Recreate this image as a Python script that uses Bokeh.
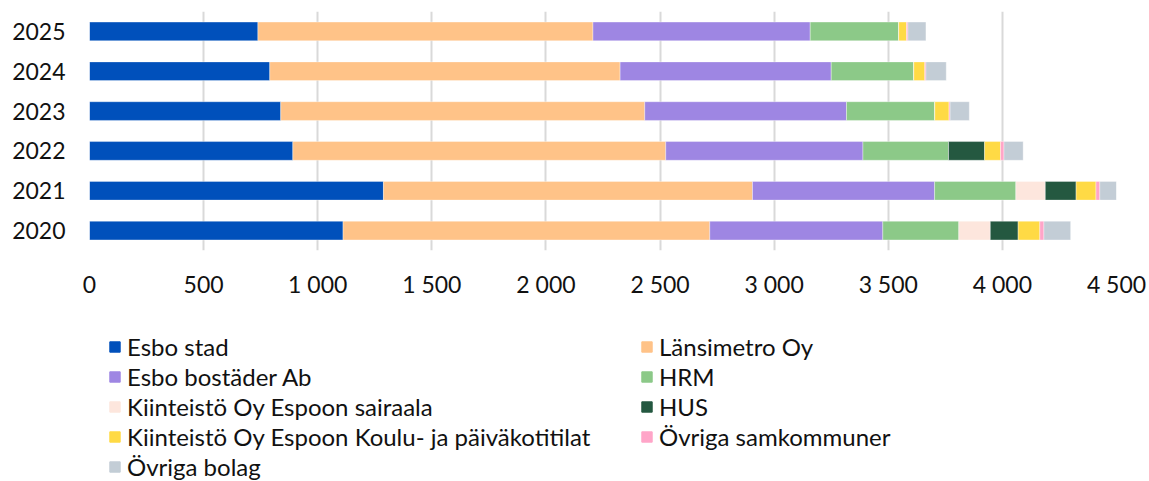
from bokeh.plotting import figure
from bokeh.layouts import column
from bokeh.models import ColumnDataSource, FactorRange, Range1d, FixedTicker, Legend, LegendItem
from bokeh.embed import file_html
from bokeh.resources import INLINE

years = ["2020", "2021", "2022", "2023", "2024", "2025"]
esbo_stad = [1111, 1288, 891, 838, 790, 738]
lansimetro = [1607, 1617, 1634, 1595, 1535, 1468]
esbo_bostader = [758, 798, 864, 884, 925, 952]
hrm = [333, 356, 375, 387, 362, 388]
sairaala = [138, 129, 0, 0, 0, 0]
hus = [122, 135, 158, 0, 0, 0]
koulu = [95, 87, 70, 62, 48, 34]
samkommuner = [18, 17, 15, 5, 5, 6]
ovriga_bolag = [117, 94, 84, 84, 89, 79]

series_names = ["Esbo stad", "Länsimetro Oy", "Esbo bostäder Ab", "HRM",
                "Kiinteistö Oy Espoon sairaala", "HUS",
                "Kiinteistö Oy Espoon Koulu- ja päiväkotitilat",
                "Övriga samkommuner", "Övriga bolag"]
series_values = [esbo_stad, lansimetro, esbo_bostader, hrm, sairaala, hus,
                 koulu, samkommuner, ovriga_bolag]
colors = ["#0050BB", "#FFC388", "#9E86E3", "#8CC988", "#FDE6DD", "#245840",
          "#FFDA45", "#FFA5C8", "#C3CDD6"]

x_ticks = [0, 500, 1000, 1500, 2000, 2500, 3000, 3500, 4000, 4500]
x_tick_labels = ["0", "500", "1 000", "1 500", "2 000", "2 500", "3 000",
                 "3 500", "4 000", "4 500"]

data = {"year": years}
keys = []
for i, vals in enumerate(series_values):
    k = f"s{i}"
    keys.append(k)
    data[k] = vals
source = ColumnDataSource(data)

FONT = "Lato"

# ---- chart ----
p = figure(width=1147, height=300, output_backend="svg", toolbar_location=None,
           y_range=FactorRange(*years, range_padding=0),
           x_range=Range1d(0, 4500),
           min_border_left=89, min_border_right=31, min_border_top=11,
           min_border_bottom=49)
p.outline_line_color = None

renderers = p.hbar_stack(keys, y="year", height=0.47, source=source,
                         color=colors, line_color="white", line_alpha=0.35,
                         line_width=1)

p.xaxis.ticker = FixedTicker(ticks=x_ticks)
p.xaxis.major_label_overrides = {t: l for t, l in zip(x_ticks, x_tick_labels)}
for ax in (p.xaxis[0], p.yaxis[0]):
    ax.axis_line_color = None
    ax.major_tick_line_color = None
    ax.minor_tick_line_color = None
    ax.major_tick_out = 0
    ax.major_tick_in = 0
    ax.minor_tick_out = 0
    ax.major_label_text_font = FONT
    ax.major_label_text_font_size = "23px"
    ax.major_label_text_color = "#111111"
p.xaxis.major_label_standoff = 19
p.yaxis.major_label_standoff = 24

p.ygrid.grid_line_color = None
p.xgrid.grid_line_color = "#D9D9D9"
p.xgrid.grid_line_width = 2

# ---- legend panel ----
lg = figure(width=1147, height=181, output_backend="svg", toolbar_location=None,
            y_range=FactorRange(*years), x_range=Range1d(0, 4500),
            x_axis_location=None, y_axis_location=None, min_border=0)
lg.outline_line_color = None
lg.grid.visible = False
proxies = lg.hbar_stack(keys, y="year", height=0.47, source=source,
                        color=colors, visible=False)

order = [0, 2, 4, 6, 8, 1, 3, 5, 7]
items = [LegendItem(label=series_names[i], renderers=[proxies[i]]) for i in order]
legend = Legend(items=items, orientation="vertical", nrows=5,
                location=(19, 0),
                label_text_font=FONT, label_text_font_size="24px",
                label_text_color="#111111", label_width=512,
                glyph_width=13, glyph_height=13, label_standoff=6,
                spacing=1, padding=0, margin=0,
                border_line_alpha=0, background_fill_alpha=0,
                inactive_fill_alpha=0)
lg.add_layout(legend)

layout = column(p, lg, spacing=0)
open("out.html", "w").write(file_html(layout, INLINE))
